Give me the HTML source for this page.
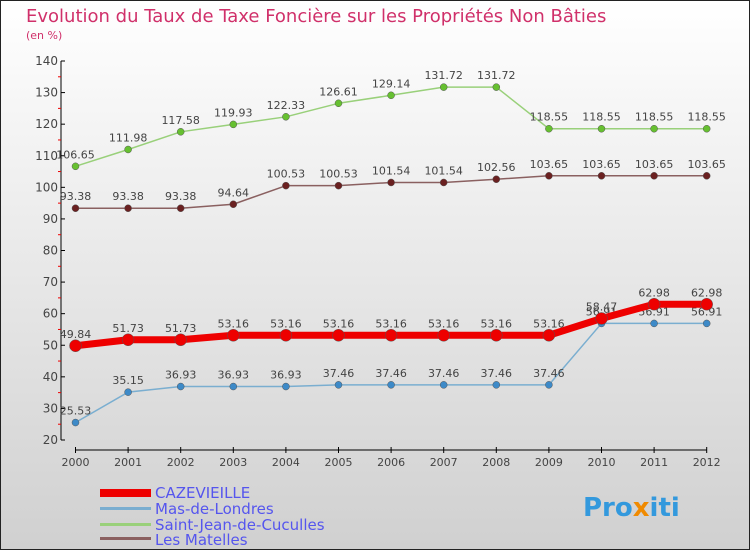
<!DOCTYPE html>
<html><head><meta charset="utf-8"><style>
html,body{margin:0;padding:0}
body{width:750px;height:550px;overflow:hidden;font-family:"DejaVu Sans","Liberation Sans",sans-serif}
svg{display:block}
</style></head><body>
<svg id="chart" width="750" height="550" xmlns="http://www.w3.org/2000/svg">
<defs><linearGradient id="bg" x1="0" y1="0" x2="0" y2="1"><stop offset="0" stop-color="#ffffff"/><stop offset="1" stop-color="#d0d0d0"/></linearGradient></defs>
<rect x="0.5" y="0.5" width="749" height="549" fill="url(#bg)" stroke="#222"/>
<text x="26" y="22" font-size="18" fill="#d0306a">Evolution du Taux de Taxe Foncière sur les Propriétés Non Bâties</text>
<text x="26" y="39" font-size="11" fill="#d0306a">(en %)</text>
<g id="axes"></g><g id="series"></g>
<g>
<rect x="100" y="489" width="51" height="8" fill="#ee0000"/>
<text x="155" y="498" font-size="15" fill="#5555ee">CAZEVIEILLE</text>
<rect x="100" y="507" width="51" height="3" fill="#7aaed0"/>
<text x="155" y="514" font-size="15" fill="#5555ee">Mas-de-Londres</text>
<rect x="100" y="523" width="51" height="3" fill="#99d07a"/>
<text x="155" y="530" font-size="15" fill="#5555ee">Saint-Jean-de-Cuculles</text>
<rect x="100" y="537" width="51" height="3" fill="#8a6060"/>
<text x="155" y="545" font-size="15" fill="#5555ee">Les Matelles</text>
</g>
<g><text x="583" y="516" font-size="26" font-weight="bold" fill="#3399dd">Pro<tspan fill="#f08a00">x</tspan>iti</text></g>
</svg>
<script>
const years=[2000,2001,2002,2003,2004,2005,2006,2007,2008,2009,2010,2011,2012];
const yTicks=[20,30,40,50,60,70,80,90,100,110,120,130,140];
const cazevieille=[49.84,51.73,51.73,53.16,53.16,53.16,53.16,53.16,53.16,53.16,58.47,62.98,62.98];
const masDeLondres=[25.53,35.15,36.93,36.93,36.93,37.46,37.46,37.46,37.46,37.46,56.91,56.91,56.91];
const saintJean=[106.65,111.98,117.58,119.93,122.33,126.61,129.14,131.72,131.72,118.55,118.55,118.55,118.55];
const matelles=[93.38,93.38,93.38,94.64,100.53,100.53,101.54,101.54,102.56,103.65,103.65,103.65,103.65];
const NS="http://www.w3.org/2000/svg";
const X=i=>75.5+i*52.6;
const Y=v=>440-(v-20)*(379/120);
function mk(t,a,p){const e=document.createElementNS(NS,t);for(const k in a)e.setAttribute(k,a[k]);p.appendChild(e);return e;}
const ax=document.getElementById('axes');
const yl=mk('line',{x1:61,y1:Y(140),x2:61,y2:Y(20),stroke:'#000'},ax);


yTicks.forEach(v=>{
 mk('line',{x1:61,y1:Y(v),x2:65,y2:Y(v),stroke:'#000'},ax);
 if(v<140)mk('line',{x1:58,y1:Y(v+5),x2:61,y2:Y(v+5),stroke:'#e00'},ax);
 const t=mk('text',{x:58,y:Y(v)+4,'text-anchor':'end','font-size':12,fill:'#444'},ax);
 t.textContent=v;
 
 
});
const xl=mk('line',{x1:X(0),y1:450,x2:X(12),y2:450,stroke:'#000'},ax);


years.forEach((y,i)=>{
 mk('line',{x1:X(i),y1:447,x2:X(i),y2:453,stroke:'#000'},ax);
 const t=mk('text',{x:X(i),y:466,'text-anchor':'middle','font-size':11,fill:'#444'},ax);
 t.textContent=y;
 
 
});
const sg=document.getElementById('series');
function draw(vals,name,color,dot,w,r){
 const g=mk('g',{},sg);
 
 
 mk('polyline',{points:vals.map((v,i)=>X(i)+','+Y(v)).join(' '),fill:'none',stroke:color,'stroke-width':w,'stroke-linejoin':'round'},g);
 vals.forEach((v,i)=>{
  const c=mk('circle',{cx:X(i),cy:Y(v),r:r,fill:dot,stroke:'#555','stroke-width':0.5},g);
  
  
  const t=mk('text',{x:X(i),y:Y(v)-8,'text-anchor':'middle','font-size':11,fill:'#444'},g);
  t.textContent=v;
  
  
 });
}
draw(masDeLondres,'series-mas-de-londres','#7aaed0','#3d8ac8',1.5,3.5);
draw(saintJean,'series-saint-jean-de-cuculles','#99d07a','#66c030',1.5,3.5);
draw(matelles,'series-les-matelles','#8a6060','#6a2020',1.5,3.5);
draw(cazevieille,'series-cazevieille','#ee0000','#ee0000',7,6);
</script>
</body></html>
